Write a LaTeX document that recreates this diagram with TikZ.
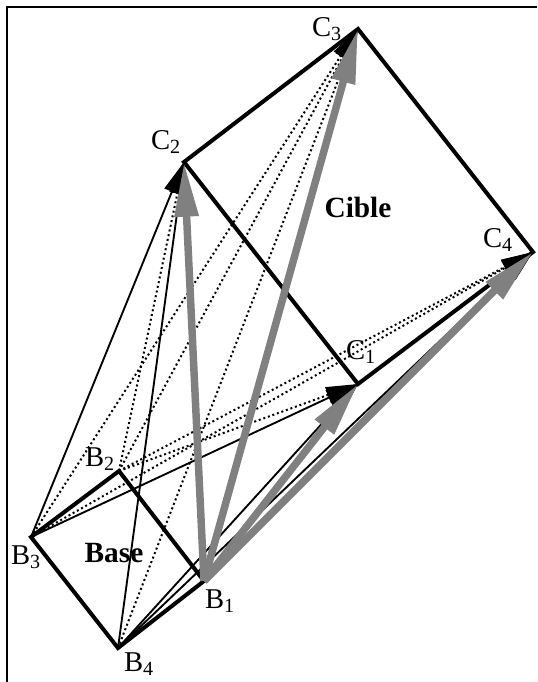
\documentclass[tikz,border=0pt]{standalone}
\usepackage{fontspec}
\setmainfont{Liberation Serif}
\usepackage{xcolor}
\definecolor{arrowgrey}{HTML}{808080}
\usetikzlibrary{arrows.meta}
\begin{document}
\begin{tikzpicture}[
  x=0.75pt, y=-0.75pt,
  frameline/.style={black, line width=1.7pt},
  baseedge/.style={black, line width=3pt, line join=miter},
  solidlink/.style={black, line width=1.4pt},
  dotlink/.style={black, line width=1.5pt, dash pattern=on 1.5pt off 2.1pt},
  blackhead/.style={-{Triangle[length=24pt, width=12pt]}},
  greyarrow/.style={-{Triangle[length=41pt, width=17pt]}, arrowgrey, line width=5.6pt},
  ptlabel/.style={font=\fontsize{21.5}{24}\selectfont, inner sep=0pt},
  boxlabel/.style={font=\fontsize{22}{24}\selectfont\bfseries, inner sep=0pt}
]
  \useasboundingbox (0,0) rectangle (537,682);
  \coordinate (B1) at (204,581);
  \coordinate (B2) at (119,471);
  \coordinate (B3) at (31,537);
  \coordinate (B4) at (118,648);
  \coordinate (C1) at (358,384);
  \coordinate (C2) at (184,162);
  \coordinate (C3) at (358,29);
  \coordinate (C4) at (533,252);
  \coordinate (FrameA) at (7,682);
  \coordinate (FrameB) at (7,7);
  \coordinate (FrameC) at (537,7);

  \draw[frameline] (FrameA) -- (FrameB) -- (FrameC);

  % squares
  \draw[baseedge] (B1) -- (B2) -- (B3) -- (B4) -- cycle;
  \draw[baseedge] (C1) -- (C2) -- (C3) -- (C4) -- cycle;

  % dotted
  \foreach \from/\to in {B2/C2, B2/C3, B3/C3, B4/C3, B2/C1, B2/C4, B3/C4}
    \draw[dotlink, blackhead] (\from) -- (\to);

  % solid
  \foreach \from/\to in {B3/C2, B4/C2, B3/C1, B4/C1, B4/C4}
    \draw[solidlink, blackhead] (\from) -- (\to);

  % from B1
  \foreach \to in {C1, C2, C3, C4}
    \draw[greyarrow] (B1) -- (\to);

  \node[ptlabel] (LB1) at (220,601) {B\textsubscript{1}};
  \node[ptlabel] (LB2) at (100,459) {B\textsubscript{2}};
  \node[ptlabel] (LB3) at (26,557) {B\textsubscript{3}};
  \node[ptlabel] (LB4) at (139,664) {B\textsubscript{4}};
  \node[ptlabel] (LC1) at (361,352) {C\textsubscript{1}};
  \node[ptlabel] (LC2) at (166,142) {C\textsubscript{2}};
  \node[ptlabel] (LC3) at (327,29) {C\textsubscript{3}};
  \node[ptlabel] (LC4) at (498,240) {C\textsubscript{4}};
  \node[boxlabel] (LBase) at (114,553) {Base};
  \node[boxlabel] (LCible) at (358,207) {Cible};
\end{tikzpicture}
\end{document}
